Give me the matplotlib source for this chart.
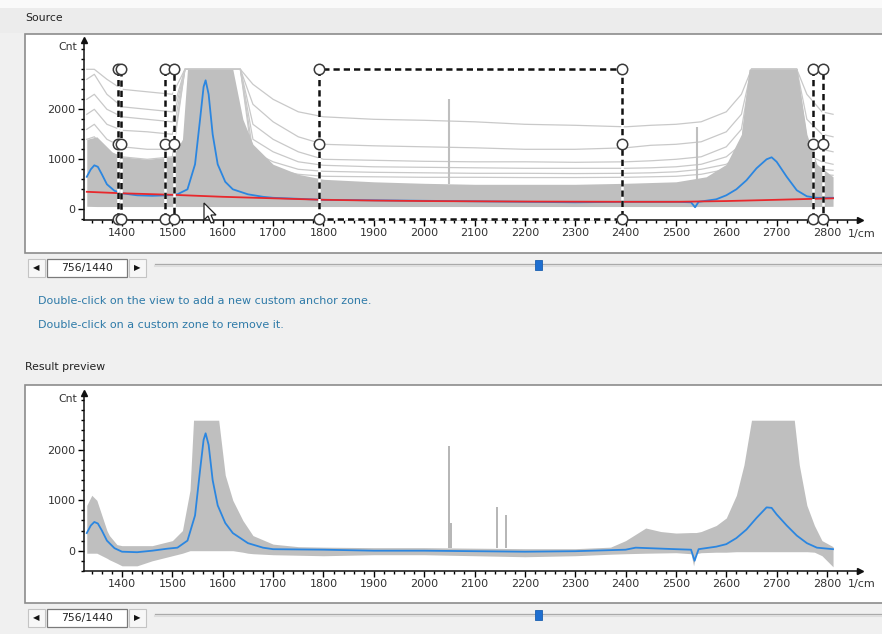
import numpy as np
import matplotlib.pyplot as plt
from matplotlib.patches import Rectangle, Polygon
from matplotlib.ticker import MultipleLocator

# ---------------- data ----------------
# Source view: dense band of spectra (upper / lower envelope)
src_env_x = [1330, 1350, 1380, 1400, 1450, 1500, 1520, 1530, 1620, 1640, 1660, 1700, 1750,
             1800, 1900, 2000, 2100, 2200, 2300, 2400, 2500, 2560, 2600, 2630, 2645,
             2740, 2760, 2780, 2812]
src_env_hi = [1400, 1450, 1150, 1050, 1000, 1050, 1400, 2800, 2800, 1800, 1300, 900, 700,
              600, 550, 520, 500, 500, 500, 520, 550, 650, 900, 1500, 2800,
              2800, 1500, 900, 650]
src_env_lo = [60, 55, 55, 55, 55, 55, 55, 55, 55, 55, 55, 55, 55,
              55, 55, 55, 55, 55, 55, 55, 55, 55, 55, 55, 55,
              55, 55, 55, 60]

# Source view: individual high spectra above the dense band
trace_x = [1330, 1345, 1370, 1400, 1450, 1500, 1525, 1635, 1660, 1700, 1750, 1800, 1900,
           2000, 2100, 2200, 2300, 2400, 2450, 2500, 2550, 2600, 2630, 2650, 2740, 2760,
           2790, 2812]
traces = [
    [2800, 2800, 2600, 2400, 2350, 2300, 2800, 2800, 2500, 2200, 1950, 1850, 1800,
     1780, 1750, 1700, 1680, 1650, 1680, 1700, 1750, 1950, 2300, 2800, 2800, 2300, 1950, 1900],
    [2600, 2700, 2300, 2050, 2000, 1950, 2800, 2800, 2100, 1750, 1450, 1300, 1270,
     1250, 1230, 1200, 1200, 1230, 1280, 1300, 1350, 1550, 1900, 2800, 2800, 1800, 1500, 1450],
    [2200, 2300, 2000, 1850, 1800, 1750, 2800, 2800, 1700, 1400, 1150, 1000, 980,
     960, 950, 950, 940, 950, 970, 1000, 1050, 1250, 1600, 2800, 2800, 1400, 1200, 1150],
    [1900, 2000, 1700, 1580, 1550, 1500, 2800, 2800, 1400, 1150, 950, 880, 850,
     840, 830, 820, 820, 820, 830, 850, 900, 1050, 1300, 2800, 2800, 1100, 950, 900],
    [1600, 1700, 1400, 1250, 1200, 1200, 2800, 2800, 1150, 950, 800, 760, 740,
     730, 720, 720, 715, 720, 730, 750, 800, 900, 1100, 2800, 2800, 900, 800, 780],
    [1400, 1450, 1150, 1050, 1000, 1050, 2800, 2800, 950, 800, 700, 660, 650,
     640, 640, 635, 635, 640, 650, 660, 700, 800, 950, 2800, 2800, 800, 700, 680],
]

# Source view: selected spectrum (blue) and fitted baseline (red)
src_blue_x = [1330, 1338, 1345, 1352, 1360, 1370, 1385, 1400, 1430, 1460, 1490, 1510, 1530,
              1545, 1555, 1562, 1566, 1572, 1580, 1590, 1605, 1620, 1650, 1680, 1700, 1750,
              1800, 1900, 2000, 2100, 2200, 2300, 2400, 2500, 2530, 2538, 2545, 2580, 2600,
              2620, 2640, 2660, 2680, 2690, 2700, 2720, 2740, 2760, 2780, 2812]
src_blue_y = [650, 800, 880, 850, 700, 500, 370, 320, 280, 270, 280, 300, 400,
              900, 1800, 2450, 2580, 2300, 1500, 900, 550, 400, 300, 250, 230, 210,
              190, 180, 170, 160, 150, 140, 150, 150, 140, 40, 150, 200, 280,
              400, 580, 820, 1000, 1040, 950, 650, 380, 260, 230, 230]
src_red_x = [1330, 1400, 1500, 1550, 1600, 1700, 1800, 1900, 2000, 2200, 2400, 2500, 2600,
             2700, 2812]
src_red_y = [350, 320, 290, 270, 250, 220, 190, 175, 165, 155, 150, 150, 165, 190, 220]

src_spike_x = [2050, 2541]
src_spike_lo = [500, 100]
src_spike_hi = [2200, 1650]

# anchor zones (wavenumber start, end)
zone_start = [1392, 1485, 1791, 2773]
zone_end = [1398, 1503, 2393, 2793]
zone_top, zone_bottom = 2800, -195

# Result preview: dense band envelope
res_env_x = [1330, 1340, 1350, 1360, 1370, 1375, 1390, 1400, 1420, 1430, 1460, 1500, 1520,
             1535, 1542, 1592, 1605, 1620, 1640, 1650, 1660, 1700, 1750, 1800, 1900, 2000,
             2100, 2200, 2300, 2370, 2400, 2440, 2470, 2500, 2530, 2535, 2540, 2550, 2580,
             2600, 2620, 2635, 2650, 2735, 2745, 2760, 2775, 2790, 2812]
res_env_hi = [900, 1100, 1000, 700, 400, 300, 120, 100, 100, 100, 100, 200, 400,
              1200, 2590, 2590, 1500, 1000, 600, 450, 300, 130, 80, 70, 60, 60,
              50, 40, 40, 70, 200, 450, 380, 350, 360, 360, 360, 380, 500,
              650, 1100, 1700, 2590, 2590, 1700, 900, 500, 200, 80]
res_env_lo = [-50, -50, -50, -100, -150, -180, -250, -300, -300, -300, -200, -100, -50,
              0, 0, 0, 0, 0, -30, -50, -60, -80, -90, -100, -80, -80,
              -100, -120, -100, -70, -60, -50, -45, -40, -60, -300, -60, -40, -30,
              -30, -20, -20, -20, -20, -20, -20, -30, -100, -320]

res_blue_x = [1330, 1338, 1345, 1352, 1360, 1370, 1385, 1400, 1430, 1460, 1490, 1510, 1530,
              1545, 1555, 1562, 1566, 1572, 1580, 1590, 1605, 1620, 1650, 1680, 1700, 1800,
              1900, 2000, 2100, 2200, 2300, 2400, 2420, 2500, 2530, 2537, 2545, 2580, 2600,
              2620, 2640, 2660, 2680, 2690, 2700, 2720, 2740, 2760, 2780, 2812]
res_blue_y = [350, 500, 570, 540, 400, 200, 50, -20, -30, 0, 40, 60, 200,
              700, 1600, 2200, 2330, 2100, 1400, 900, 550, 350, 150, 60, 30, 20,
              0, 0, -10, -20, -10, 20, 60, 30, 20, -200, 30, 80, 130,
              250, 420, 650, 860, 850, 720, 500, 300, 150, 60, 30]

res_spike_x = [2050, 2053, 2145, 2162]
res_spike_hi = [2070, 550, 875, 710]
res_spike_lo = [50, 50, 50, 50]

x_ticks = list(range(1400, 2801, 100))
y_ticks = [0, 1000, 2000]
frame_label = "756/1440"
hint_lines = ["Double-click on the view to add a new custom anchor zone.",
              "Double-click on a custom zone to remove it."]

# ---------------- layout helpers (pixel coords, top-left origin) ----------------
W, H = 882, 634
GRAY = '#bfbfbf'
TRACE = '#c9c9c9'
BLUE = '#2b86e0'
RED = '#e8282c'
plt.rcParams['font.family'] = ['DejaVu Sans']


def fbox(x0, y0, x1, y1):
    return [x0 / W, 1 - y1 / H, (x1 - x0) / W, (y1 - y0) / H]


fig = plt.figure(figsize=(W / 100, H / 100), dpi=100, facecolor='#f0f0f0')

bg = fig.add_axes([0, 0, 1, 1])
bg.set_xlim(0, W)
bg.set_ylim(H, 0)
bg.axis('off')
bg.add_patch(Rectangle((0, 0), W, 8, fc='#fafafa', ec='none'))
bg.add_patch(Rectangle((0, 8), W, 25, fc='#ececec', ec='none'))
bg.add_patch(Rectangle((25, 34), 870, 219, fc='white', ec='#8c8c8c', lw=1.2))
bg.add_patch(Rectangle((25, 385), 870, 218, fc='white', ec='#8c8c8c', lw=1.2))
bg.text(25, 18, "Source", fontsize=7.8, va='center', color='#222222')
bg.text(25, 367, "Result preview", fontsize=7.8, va='center', color='#222222')
for i, line in enumerate(hint_lines):
    bg.text(38, 301 + 24 * i, line, fontsize=8, va='center', color='#2e7aa8')


def style_axes(ax, ylim):
    ax.set_xlim(1324.5, 2865.5)
    ax.set_ylim(*ylim)
    ax.patch.set_alpha(0)
    for s in ('top', 'right'):
        ax.spines[s].set_visible(False)
    for s in ('left', 'bottom'):
        ax.spines[s].set_color('#111111')
        ax.spines[s].set_linewidth(1.1)
    ax.set_xticks(x_ticks)
    ax.set_yticks(y_ticks)
    ax.xaxis.set_minor_locator(MultipleLocator(20))
    ax.yaxis.set_minor_locator(MultipleLocator(200))
    ax.tick_params(which='major', length=4, width=1, labelsize=8, labelcolor='#333333', pad=2)
    ax.tick_params(which='minor', length=2.5, width=1)
    ax.plot(1, 0, '>', color='#111111', ms=5, transform=ax.transAxes, clip_on=False)
    ax.plot(0, 1, '^', color='#111111', ms=5, transform=ax.transAxes, clip_on=False)


# ---------------- Source view ----------------
ax1 = fig.add_axes(fbox(84, 40, 860, 220))
style_axes(ax1, (-214, 3386))
for tr in traces:
    ax1.plot(trace_x, tr, color=TRACE, lw=0.9, zorder=1)
ax1.fill_between(src_env_x, src_env_lo, src_env_hi, color=GRAY, lw=0, zorder=2)
ax1.vlines(src_spike_x, src_spike_lo, src_spike_hi, color=GRAY, lw=1.5, zorder=2)
ax1.plot(src_blue_x, src_blue_y, color=BLUE, lw=1.3, zorder=4)
ax1.plot(src_red_x, src_red_y, color=RED, lw=1.3, zorder=5)

zone_mid = (zone_top + zone_bottom) / 2
for xs, xe in zip(zone_start, zone_end):
    edge_x = [xs, xs, xe, xe, xs]
    edge_y = [zone_bottom, zone_top, zone_top, zone_bottom, zone_bottom]
    ax1.plot(edge_x, edge_y, color='white', lw=1.8, zorder=6, clip_on=False)
    ax1.plot(edge_x, edge_y, color='#111111', lw=1.8, ls=(0, (2.5, 1.6)), zorder=7,
             clip_on=False)
    for xv in (xs, xe):
        ax1.plot([xv] * 3, [zone_top, zone_mid, zone_bottom], 'o', ms=7.5, mfc='white',
                 mec='#3a3a3a', mew=1.1, zorder=8, clip_on=False)

# ---------------- Result preview ----------------
ax2 = fig.add_axes(fbox(84, 393, 860, 571))
style_axes(ax2, (-403, 3130))
ax2.fill_between(res_env_x, res_env_lo, res_env_hi, color=GRAY, lw=0, zorder=2)
ax2.vlines(res_spike_x, res_spike_lo, res_spike_hi, color='#b0b0b0', lw=1.3, zorder=2)
ax2.plot(res_blue_x, res_blue_y, color=BLUE, lw=1.3, zorder=4)

# ---------------- overlay: units, nav bars, cursor ----------------
ov = fig.add_axes([0, 0, 1, 1])
ov.set_xlim(0, W)
ov.set_ylim(H, 0)
ov.axis('off')
ov.patch.set_alpha(0)
for y_axis_top, y_lab in ((47, 234), (399, 584)):
    ov.text(58, y_axis_top, "Cnt", fontsize=7.8, va='center', color='#333333')
    ov.text(848, y_lab, "1/cm", fontsize=8, va='center', color='#333333')

for yc in (268, 618):
    ov.add_patch(Rectangle((28, yc - 9), 17, 18, fc='#f7f7f7', ec='#c4c4c4', lw=0.8))
    ov.add_patch(Rectangle((47, yc - 9), 80, 18, fc='white', ec='#7a7a7a', lw=0.9))
    ov.add_patch(Rectangle((129, yc - 9), 17, 18, fc='#f7f7f7', ec='#c4c4c4', lw=0.8))
    ov.text(36.5, yc, "\u25c0", fontsize=6, ha='center', va='center', color='#111111')
    ov.text(137.5, yc, "\u25b6", fontsize=6, ha='center', va='center', color='#111111')
    ov.text(87, yc, frame_label, fontsize=7.8, ha='center', va='center', color='#222222')
    ov.plot([155, W], [yc - 4, yc - 4], color='#a8a8a8', lw=0.9, zorder=1)
    ov.plot([155, W], [yc - 2, yc - 2], color='#dedede', lw=1.5, zorder=1)
    ov.add_patch(Rectangle((535, yc - 8), 7, 10, fc='#1f6fd0', ec='#1a5fb0', lw=0.6,
                           zorder=5))

cursor = np.array([[0, 0], [0, 17], [4, 13], [7, 20], [10, 19], [7, 12], [12, 12]])
ov.add_patch(Polygon(cursor + [204, 203], closed=True, fc='white', ec='#222222', lw=0.9,
                     zorder=6))

fig.savefig('out.png', dpi=100, facecolor=fig.get_facecolor())
